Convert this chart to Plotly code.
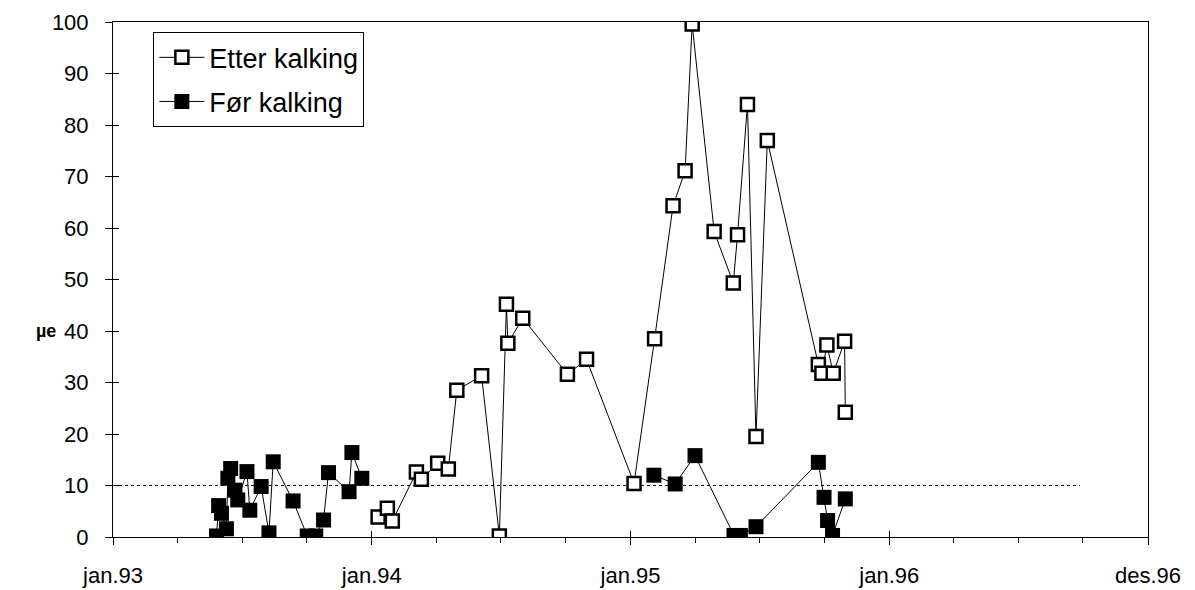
import plotly.graph_objects as go
import pandas as pd

# ---- data ----
etter_dates = ["1994-01-10", "1994-01-23", "1994-01-30", "1994-03-05", "1994-03-12",
               "1994-04-04", "1994-04-19", "1994-05-01", "1994-06-05", "1994-06-30",
               "1994-07-10", "1994-07-12", "1994-08-02", "1994-10-04", "1994-10-31",
               "1995-01-06", "1995-02-04", "1995-03-02", "1995-03-19", "1995-03-29",
               "1995-04-29", "1995-05-26", "1995-06-01", "1995-06-15", "1995-06-27",
               "1995-07-13", "1995-09-23", "1995-09-28", "1995-10-05", "1995-10-14",
               "1995-10-30", "1995-10-31"]
etter_vals = [3.9, 5.6, 3.1, 12.6, 11.2,
              14.3, 13.2, 28.5, 31.3, 0.2,
              45.2, 37.6, 42.5, 31.6, 34.5,
              10.4, 38.5, 64.3, 71.1, 99.6,
              59.3, 49.3, 58.7, 84.0, 19.5,
              77.0, 33.5, 31.8, 37.3, 31.8,
              38.0, 24.2]

foer_dates = ["1993-05-27", "1993-05-30", "1993-06-03", "1993-06-10", "1993-06-12",
              "1993-06-16", "1993-06-22", "1993-06-26", "1993-07-09", "1993-07-13",
              "1993-07-29", "1993-08-09", "1993-08-15", "1993-09-12", "1993-10-02",
              "1993-10-14", "1993-10-25", "1993-11-01", "1993-11-30", "1993-12-04",
              "1993-12-18", None,
              "1995-02-03", "1995-03-05", "1995-04-02", "1995-05-27", "1995-06-05",
              "1995-06-27", "1995-09-23", "1995-10-01", "1995-10-06", "1995-10-13",
              "1995-10-31"]
foer_vals = [0.2, 6.1, 4.6, 1.6, 11.4,
             13.3, 9.1, 7.2, 12.7, 5.2,
             9.8, 0.8, 14.6, 7.0, 0.2,
             0.2, 3.3, 12.5, 8.8, 16.4,
             11.4, None,
             12.0, 10.3, 15.8, 0.3, 0.3,
             2.0, 14.5, 7.7, 3.2, 0.3,
             7.4]

limit_dates = ["1993-01-01", "1996-09-26"]
limit_vals = [10, 10]

x_tickvals = ["1993-01-01", "1994-01-01", "1995-01-01", "1996-01-01", "1996-12-31"]
x_ticktext = ["jan.93", "jan.94", "jan.95", "jan.96", "des.96"]
y_tickvals = list(range(0, 101, 10))

FONT = "Arial, 'Liberation Sans', sans-serif"

# minor ticks: quarters between major ticks
t0 = pd.Timestamp("1993-01-01")
minor_vals = [(t0 + pd.Timedelta(days=365 * k / 4)).strftime("%Y-%m-%d")
              for k in range(1, 16) if k % 4 != 0]

fig = go.Figure()

fig.add_trace(go.Scatter(
    x=limit_dates, y=limit_vals, mode="lines",
    line=dict(color="black", width=1, dash="dot"),
    showlegend=False, hoverinfo="skip"))

fig.add_trace(go.Scatter(
    x=etter_dates, y=etter_vals, mode="lines+markers", name="Etter kalking",
    legendgroup="a",
    line=dict(color="black", width=1),
    marker=dict(symbol="square", size=13, color="white",
                line=dict(color="black", width=2.5))))

fig.add_trace(go.Scatter(
    x=foer_dates, y=foer_vals, mode="lines+markers", name="Før kalking",
    legendgroup="b",
    line=dict(color="black", width=1),
    marker=dict(symbol="square", size=15, color="black",
                line=dict(color="black", width=0)),
    connectgaps=False))

# invisible trace for overlay axes (inside tick marks)
fig.add_trace(go.Scatter(x=[x_tickvals[0]], y=[0], xaxis="x2", yaxis="y2",
                         mode="markers", marker=dict(opacity=0),
                         showlegend=False, hoverinfo="skip"))

fig.update_layout(
    width=1195, height=590,
    margin=dict(l=113, r=47, t=22, b=53, autoexpand=False),
    paper_bgcolor="white", plot_bgcolor="white",
    font=dict(family=FONT, size=22, color="black"),
    showlegend=True,
    legend=dict(x=0.039, y=0.98, xanchor="left", yanchor="top",
                bordercolor="black", borderwidth=1, bgcolor="white",
                font=dict(size=27, family=FONT), tracegroupgap=6,
                itemwidth=45),
    xaxis=dict(type="date", range=["1993-01-01", "1996-12-31"], automargin=False,
               tickmode="array", tickvals=x_tickvals, ticktext=x_ticktext,
               ticks="outside", ticklen=7, tickwidth=1, tickcolor="black",
               showline=True, linecolor="black", linewidth=1, mirror=True,
               showgrid=False, zeroline=False, ticklabelstandoff=12,
               minor=dict(tickmode="array", tickvals=minor_vals, ticks="outside",
                          ticklen=5, tickcolor="black", tickwidth=1, showgrid=False)),
    yaxis=dict(range=[0, 100], tickmode="array", tickvals=y_tickvals, automargin=False,
               ticks="outside", ticklen=7, tickwidth=1, tickcolor="black",
               showline=True, linecolor="black", linewidth=1, mirror=True,
               showgrid=False, zeroline=False, ticklabelstandoff=12),
    xaxis2=dict(type="date", range=["1993-01-01", "1996-12-31"], overlaying="x",
                tickmode="array", tickvals=x_tickvals, ticks="inside", ticklen=6,
                tickcolor="black", showticklabels=False, showline=False,
                showgrid=False, zeroline=False, side="bottom", automargin=False),
    yaxis2=dict(range=[0, 100], overlaying="y", tickmode="array", tickvals=y_tickvals,
                ticks="inside", ticklen=6, tickcolor="black", showticklabels=False,
                showline=False, showgrid=False, zeroline=False, side="left",
                automargin=False),
    annotations=[dict(text="<b>µe</b>", x=-0.065, y=40, xref="paper", yref="y",
                      xanchor="center", yanchor="middle", showarrow=False,
                      font=dict(size=18, family=FONT))],
)

fig.write_html("out.html",
               config={"displayModeBar": False},
               post_script="document.body.style.margin='0';"
                           "document.body.style.overflow='hidden';")
